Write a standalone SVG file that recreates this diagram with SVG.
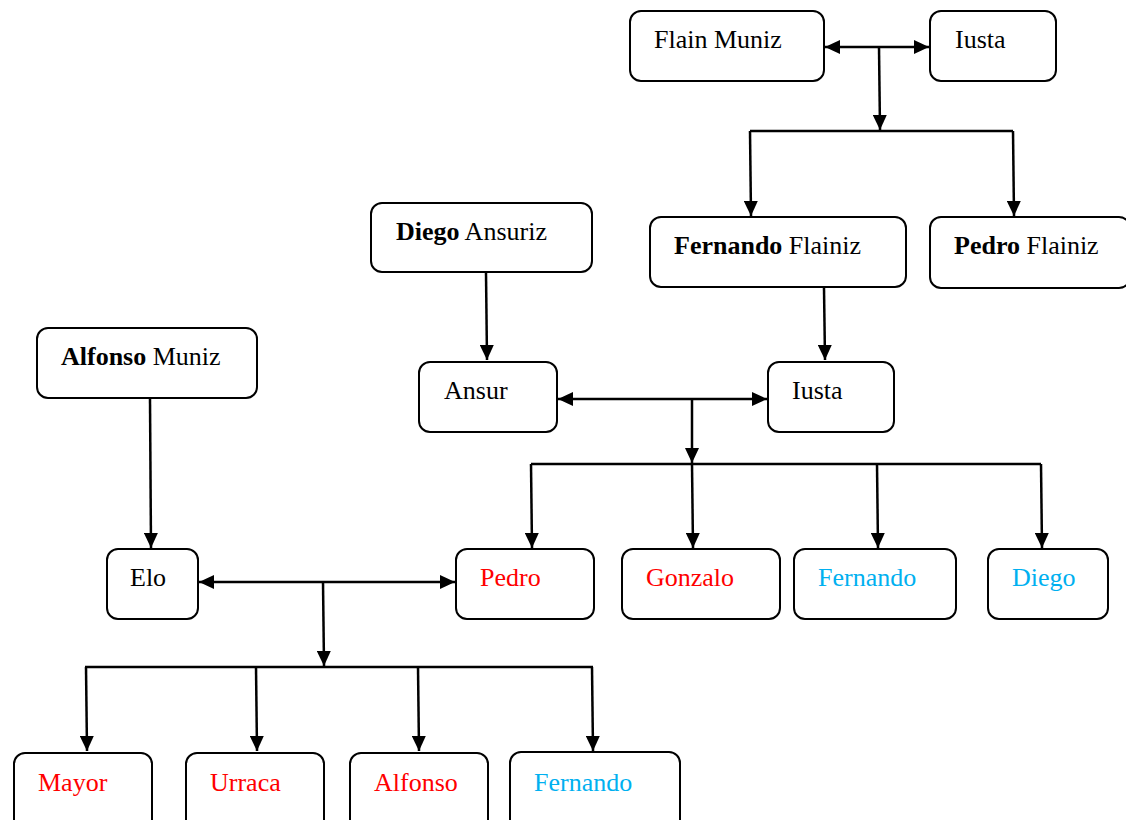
<svg xmlns="http://www.w3.org/2000/svg" width="1126" height="820" viewBox="0 0 1126 820">
<defs>
<marker id="ah" markerUnits="userSpaceOnUse" markerWidth="16" markerHeight="14" refX="15" refY="7" orient="auto-start-reverse">
<path d="M0,0 L15,7 L0,14 Z" fill="#000"/>
</marker>
</defs>
<style>
rect{fill:#fff;stroke:#000;stroke-width:2}
text{font-family:"Liberation Serif","Times New Roman",serif;font-size:26px;fill:#000}
.b{font-weight:bold}
.r{fill:#ff0000}
.c{fill:#00b0f0}
.con line{stroke:#000;stroke-width:2.5}
.con .a{marker-end:url(#ah)}
.con .d{marker-start:url(#ah);marker-end:url(#ah)}
</style>
<rect x="0" y="0" width="1126" height="820" style="fill:#fff;stroke:none"/>
<g class="con" id="connectors">
<line class="d" x1="825" y1="47" x2="929" y2="47"/>
<line class="a" x1="879" y1="47" x2="880" y2="130"/>
<line x1="750" y1="131" x2="1013" y2="131"/>
<line class="a" x1="750" y1="131" x2="751" y2="216"/>
<line class="a" x1="1013" y1="131" x2="1014" y2="216"/>
<line class="a" x1="824" y1="288" x2="825" y2="360"/>
<line class="a" x1="486" y1="273" x2="487" y2="360"/>
<line class="d" x1="558" y1="399" x2="767" y2="399"/>
<line class="a" x1="692" y1="399" x2="692" y2="463"/>
<line x1="531" y1="464" x2="1041" y2="464"/>
<line class="a" x1="531" y1="464" x2="532" y2="548"/>
<line class="a" x1="692" y1="464" x2="693" y2="548"/>
<line class="a" x1="877" y1="464" x2="878" y2="548"/>
<line class="a" x1="1041" y1="464" x2="1042" y2="548"/>
<line class="a" x1="150" y1="399" x2="151" y2="548"/>
<line class="d" x1="199" y1="582" x2="455" y2="582"/>
<line class="a" x1="323" y1="582" x2="324" y2="666"/>
<line x1="85" y1="667" x2="593" y2="667"/>
<line class="a" x1="86" y1="667" x2="87" y2="751"/>
<line class="a" x1="256" y1="667" x2="257" y2="751"/>
<line class="a" x1="418" y1="667" x2="419" y2="751"/>
<line class="a" x1="592" y1="667" x2="593" y2="751"/>
</g>
<g id="flain"><rect x="630" y="11" width="194" height="70" rx="11"/><text x="654" y="48">Flain Muniz</text></g>
<g id="iusta1"><rect x="930" y="11" width="126" height="70" rx="11"/><text x="955" y="48">Iusta</text></g>
<g id="fernandoF"><rect x="650" y="217" width="256" height="70" rx="11"/><text x="674" y="254"><tspan class="b">Fernando</tspan> Flainiz</text></g>
<g id="pedroF"><rect x="930" y="217" width="200" height="71" rx="11"/><text x="954" y="254"><tspan class="b">Pedro</tspan> Flainiz</text></g>
<g id="diegoA"><rect x="371" y="203" width="221" height="69" rx="11"/><text x="396" y="240"><tspan class="b">Diego</tspan> Ansuriz</text></g>
<g id="ansur"><rect x="419" y="362" width="138" height="70" rx="11"/><text x="444" y="399">Ansur</text></g>
<g id="iusta2"><rect x="768" y="362" width="126" height="70" rx="11"/><text x="792" y="399">Iusta</text></g>
<g id="alfonsoM"><rect x="37" y="328" width="220" height="70" rx="11"/><text x="61" y="365"><tspan class="b">Alfonso</tspan> Muniz</text></g>
<g id="elo"><rect x="107" y="549" width="91" height="70" rx="11"/><text x="130" y="586">Elo</text></g>
<g id="pedro"><rect x="456" y="549" width="138" height="70" rx="11"/><text class="r" x="480" y="586">Pedro</text></g>
<g id="gonzalo"><rect x="622" y="549" width="158" height="70" rx="11"/><text class="r" x="646" y="586">Gonzalo</text></g>
<g id="fernando1"><rect x="794" y="549" width="162" height="70" rx="11"/><text class="c" x="818" y="586">Fernando</text></g>
<g id="diego"><rect x="988" y="549" width="120" height="70" rx="11"/><text class="c" x="1012" y="586">Diego</text></g>
<g id="mayor"><rect x="14" y="753" width="138" height="80" rx="11"/><text class="r" x="38" y="791">Mayor</text></g>
<g id="urraca"><rect x="186" y="753" width="138" height="80" rx="11"/><text class="r" x="210" y="791">Urraca</text></g>
<g id="alfonso"><rect x="350" y="753" width="138" height="80" rx="11"/><text class="r" x="374" y="791">Alfonso</text></g>
<g id="fernando2"><rect x="510" y="752" width="170" height="80" rx="11"/><text class="c" x="534" y="791">Fernando</text></g>
</svg>
